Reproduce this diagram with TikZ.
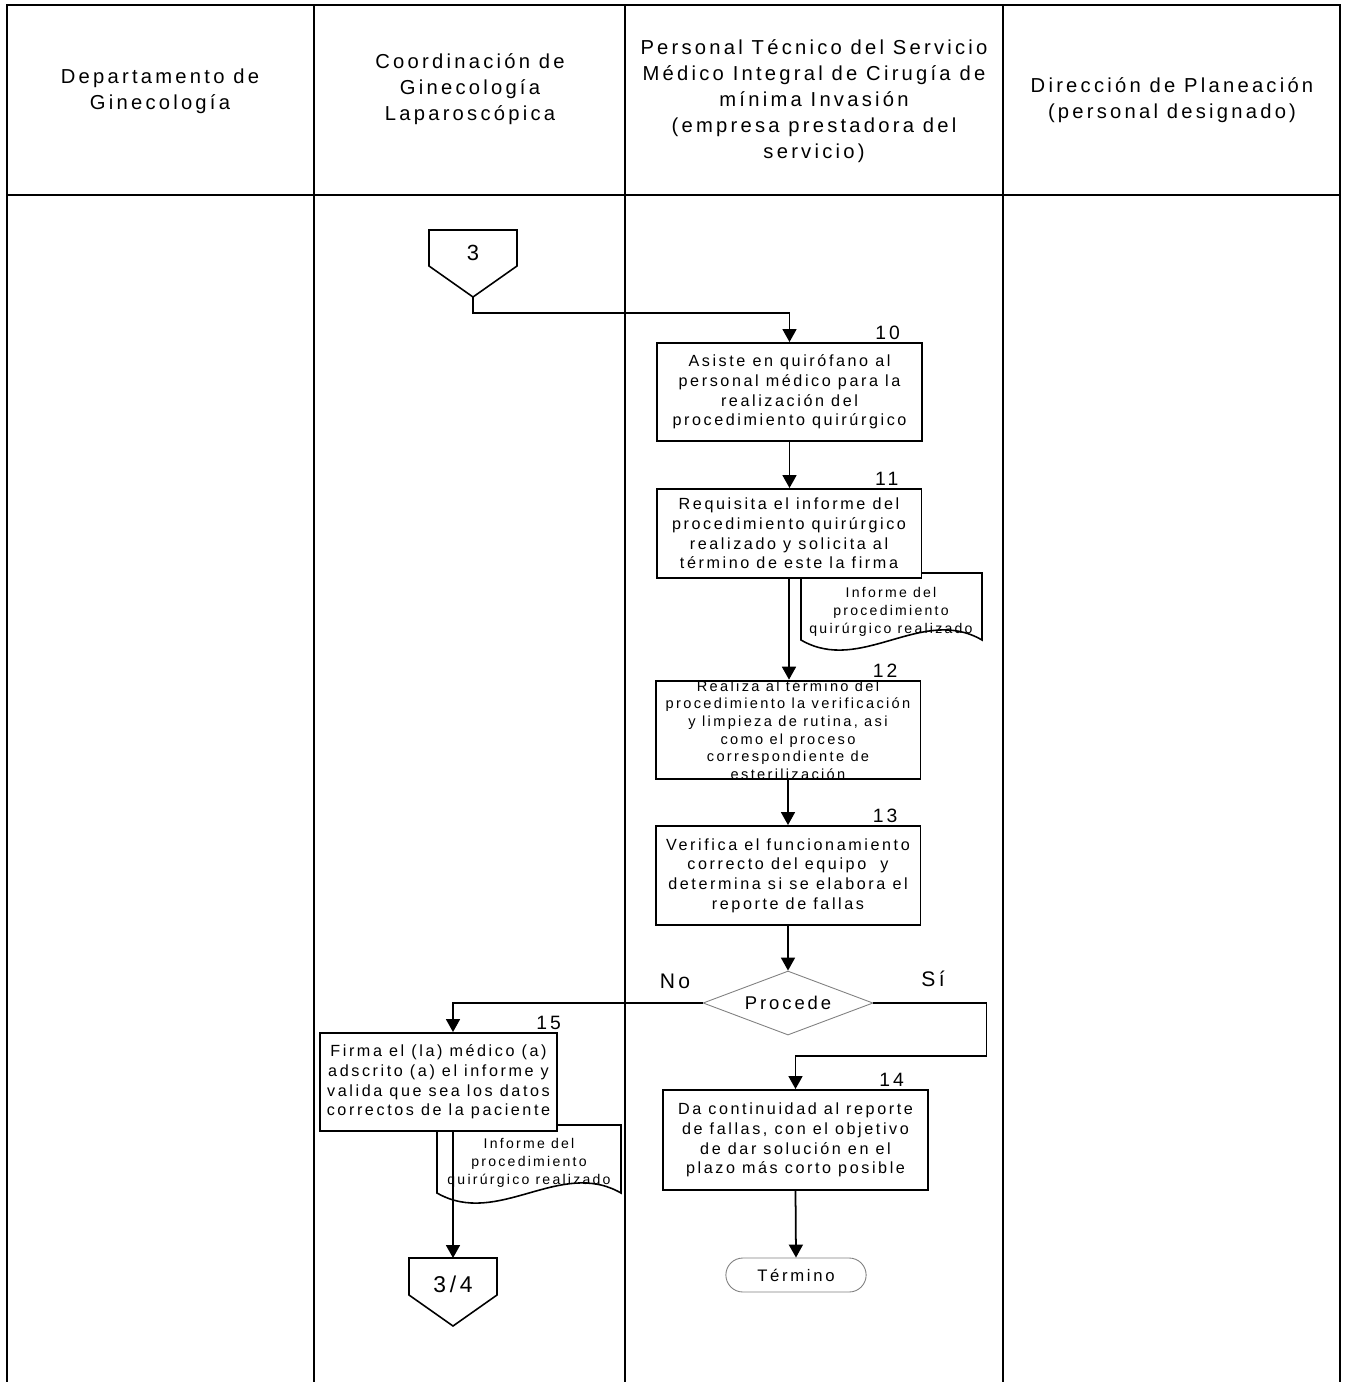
\documentclass[tikz,border=0pt]{standalone}
\usepackage{fontspec}
\setmainfont{Liberation Sans}[LetterSpace=16]
\usetikzlibrary{arrows.meta,shapes.geometric,shapes.misc}

\begin{document}
\begin{tikzpicture}[x=0.02cm, y=-0.02cm,
    lane/.style={line width=0.9pt},
    head/.style={align=center, font=\fontsize{11.5}{14.8}\selectfont},
    proc/.style={draw, line width=1.1pt, fill=white, align=center, inner sep=0pt,
                 minimum width=5.3cm, font=\fontsize{9.2}{11.2}\selectfont},
    doctext/.style={align=center, inner sep=0pt, font=\fontsize{8}{10.2}\selectfont},
    offpage/.style={line width=0.9pt, fill=white},
    num/.style={inner sep=1pt, font=\fontsize{11}{13}\selectfont},
    lbl/.style={font=\fontsize{12}{14}\selectfont},
    flow/.style={line width=1pt, -{Triangle[length=2.6mm,width=2.8mm]}},
    soft/.style={draw=black!50, line width=0.5pt},
]
    \fill[white] (0,0) rectangle (1345,1382);
    \useasboundingbox (0,0) rectangle (1345,1382);

    % Swimlanes
    \draw[lane] (7,1382) -- (7,5) -- (1340,5) -- (1340,1382);
    \draw[lane] (7,195) -- (1340,195);
    \foreach \x in {314,625,1003}
        \draw[lane] (\x,5) -- (\x,1382);

    % Lane titles
    \node[head] (h1) at (160,91) {Departamento de\\Ginecología};
    \node[head] (h2) at (470,89) {Coordinación de\\Ginecología\\Laparoscópica};
    \node[head] (h3) at (814,101) {Personal Técnico del Servicio\\Médico Integral de Cirugía de\\mínima Invasión\\(empresa prestadora del\\servicio)};
    \node[head] (h4) at (1172,100) {Dirección de Planeación\\(personal designado)};

    % Incoming connector 3
    \draw[offpage] (429,230) -- (517,230) -- (517,266) -- (473,297) -- (429,266) -- cycle;
    \node[font=\fontsize{12.5}{14}\selectfont] (c3) at (473,253) {3};
    \coordinate (c3tip) at (473,297);

    % Outgoing connector 3/4
    \draw[offpage] (409,1258) -- (497,1258) -- (497,1295) -- (453,1326) -- (409,1295) -- cycle;
    \node[font=\fontsize{13}{15}\selectfont] (c34) at (453,1284) {3/4};
    \coordinate (c34top) at (453,1258);

    % Documents (drawn first, the boxes sit on top of them)
    \draw[offpage] (801,573) -- (982,573) -- (982,640)
        .. controls (922,605) and (861,675) .. (801,640) -- cycle;
    \node[doctext] (d1) at (891,612) {Informe del\\procedimiento\\quirúrgico realizado};

    \draw[offpage] (437,1125) -- (621,1125) -- (621,1193)
        .. controls (560,1158) and (498,1228) .. (437,1193) -- cycle;
    \node[doctext] (d2) at (529,1163) {Informe del\\procedimiento\\quirúrgico realizado};

    % Activities
    \node[proc, minimum height=1.96cm] (b10) at (789.5,392)
        {Asiste en quirófano al\\personal médico para la\\realización del\\procedimiento quirúrgico};
    \node[proc, minimum height=1.78cm] (b11) at (789,533.5)
        {Requisita el informe del\\procedimiento quirúrgico\\realizado y solicita al\\término de este la firma};
    \node[proc, minimum height=1.96cm, font=\fontsize{8.3}{10}\selectfont] (b12) at (788,730)
        {Realiza al término del\\procedimiento la verificación\\y limpieza de rutina, asi\\como el proceso\\correspondiente de\\esterilización};
    \node[proc, minimum height=1.98cm] (b13) at (788,875.5)
        {Verifica el funcionamiento\\correcto del equipo \ y\\determina si se elabora el\\reporte de fallas};
    \node[proc, minimum height=2cm] (b14) at (795.5,1140)
        {Da continuidad al reporte\\de fallas, con el objetivo\\de dar solución en el\\plazo más corto posible};
    \node[proc, minimum width=4.74cm, minimum height=1.96cm] (b15) at (438.5,1082)
        {Firma el (la) médico (a)\\adscrito (a) el informe y\\valida que sea los datos\\correctos de la paciente};

    % Step numbers
    \node[num, anchor=south east] (n10) at ([xshift=-0.42cm]b10.north east) {10};
    \node[num, anchor=south east] (n11) at ([xshift=-0.44cm]b11.north east) {11};
    \node[num, anchor=south east] (n12) at ([xshift=-0.44cm]b12.north east) {12};
    \node[num, anchor=south east] (n13) at ([xshift=-0.44cm]b13.north east) {13};
    \node[num, anchor=south east] (n14) at ([xshift=-0.46cm]b14.north east) {14};
    \node[num, anchor=south east] (n15) at ([xshift=0.1cm]b15.north east) {15};

    % Decision and end
    \node[diamond, soft, aspect=2.65, minimum width=3.4cm, minimum height=1.28cm,
          inner sep=0pt, font=\fontsize{10.5}{12}\selectfont] (dec) at (788,1003) {Procede};
    \node[lbl] (no) at (675,981) {No};
    \node[lbl] (si) at (933,979) {Sí};
    \node[rounded rectangle, soft, minimum width=3.04cm, minimum height=0.68cm,
          font=\fontsize{9.5}{11}\selectfont] (fin) at (796,1275) {Término};

    % Flow
    \draw[flow] (c3tip) -- ++(0,16) -| (b10.north);
    \draw[flow] (b10.south) -- (b10.south |- b11.north);
    \draw[flow] (b11.south) -- (b11.south |- b12.north);
    \draw[flow] (b12.south) -- (b12.south |- b13.north);
    \draw[flow] (b13.south) -- (dec.north);
    \draw[flow] (dec.west) -| (b15.north -| c34);
    \draw[flow] (dec.east) -- ++(113,0) -- ++(0,53) -| (b14.north);
    \draw[flow] (b15.south -| c34) -- (c34top);
    \draw[flow] (b14.south) -- (fin.north);
\end{tikzpicture}
\end{document}
